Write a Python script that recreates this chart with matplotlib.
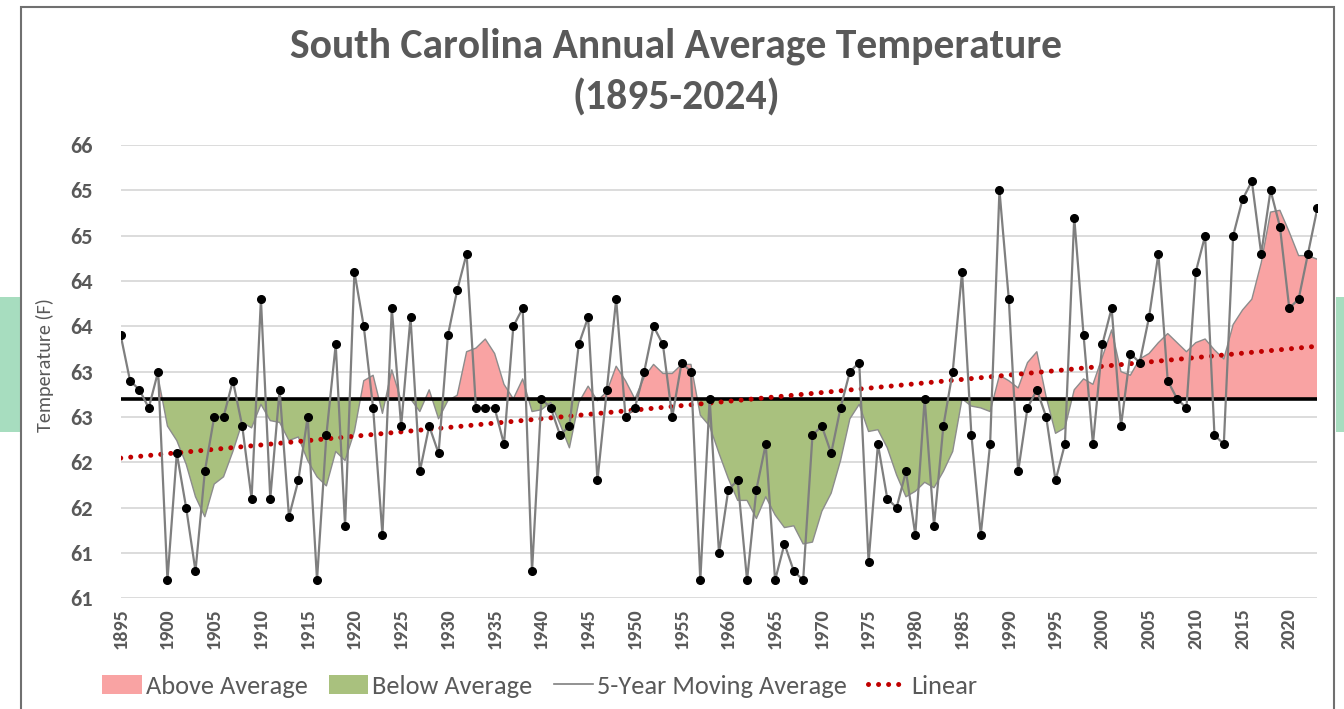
import numpy as np
import pandas as pd
import matplotlib
matplotlib.use('Agg')
import matplotlib.pyplot as plt
from matplotlib.patches import Patch, Rectangle
from matplotlib.lines import Line2D

plt.rcParams['font.family'] = ['Carlito', 'Liberation Sans Narrow', 'Lato', 'DejaVu Sans']

# ---------------- data ----------------
years = list(range(1895, 2024))
temps = [
    63.5, 63.0, 62.9, 62.7, 63.1, 60.8, 62.2, 61.6, 60.9, 62.0,   # 1895-1904
    62.6, 62.6, 63.0, 62.5, 61.7, 63.9, 61.7, 62.9, 61.5, 61.9,   # 1905-1914
    62.6, 60.8, 62.4, 63.4, 61.4, 64.2, 63.6, 62.7, 61.3, 63.8,   # 1915-1924
    62.5, 63.7, 62.0, 62.5, 62.2, 63.5, 64.0, 64.4, 62.7, 62.7,   # 1925-1934
    62.7, 62.3, 63.6, 63.8, 60.9, 62.8, 62.7, 62.4, 62.5, 63.4,   # 1935-1944
    63.7, 61.9, 62.9, 63.9, 62.6, 62.7, 63.1, 63.6, 63.4, 62.6,   # 1945-1954
    63.2, 63.1, 60.8, 62.8, 61.1, 61.8, 61.9, 60.8, 61.8, 62.3,   # 1955-1964
    60.8, 61.2, 60.9, 60.8, 62.4, 62.5, 62.2, 62.7, 63.1, 63.2,   # 1965-1974
    61.0, 62.3, 61.7, 61.6, 62.0, 61.3, 62.8, 61.4, 62.5, 63.1,   # 1975-1984
    64.2, 62.4, 61.3, 62.3, 65.1, 63.9, 62.0, 62.7, 62.9, 62.6,   # 1985-1994
    61.9, 62.3, 64.8, 63.5, 62.3, 63.4, 63.8, 62.5, 63.3, 63.2,   # 1995-2004
    63.7, 64.4, 63.0, 62.8, 62.7, 64.2, 64.6, 62.4, 62.3, 64.6,   # 2005-2014
    65.0, 65.2, 64.4, 65.1, 64.7, 63.8, 63.9, 64.4, 64.9,         # 2015-2023
]
long_term_average = 62.8
ytick_values = [60.6, 61.1, 61.6, 62.1, 62.6, 63.1, 63.6, 64.1, 64.6, 65.1, 65.6]
ytick_labels = ['61', '61', '62', '62', '63', '63', '64', '64', '65', '65', '66']
xtick_years = list(range(1895, 2024, 5))
title_text = 'South Carolina Annual Average Temperature\n(1895-2024)'
ylabel_text = 'Temperature (F)'
legend_labels = ['Above Average', 'Below Average', '5-Year Moving Average', 'Linear']

# ---------------- styles ----------------
TXT = '#595959'
PINK = '#F9A3A3'
GREEN = '#A9C17E'
GRID = '#D9D9D9'

W, H = 1344, 709
fig = plt.figure(figsize=(W / 100, H / 100), dpi=100)
fig.patch.set_facecolor('white')

# background slide elements: mint bars and frame
fig.add_artist(Rectangle((0, 1 - 432 / H), 20 / W, 135 / H, transform=fig.transFigure,
                         facecolor='#A7DDBF', edgecolor='none', zorder=0))
fig.add_artist(Rectangle((1336 / W, 1 - 432 / H), 8 / W, 135 / H, transform=fig.transFigure,
                         facecolor='#A7DDBF', edgecolor='none', zorder=0))
fig.add_artist(Rectangle((21 / W, -0.05), (1334 - 21) / W, 1.05 - 7 / H, transform=fig.transFigure,
                         facecolor='white', edgecolor='#707070', linewidth=1.5, zorder=0.5))

left, right, top, bottom = 120.7, 1317.3, 145.0, 598.3
ax = fig.add_axes([left / W, 1 - bottom / H, (right - left) / W, (bottom - top) / H])
ax.set_facecolor('none')
ax.set_zorder(2)

x = np.array(years, dtype=float)
y = np.array(temps, dtype=float)
ma = pd.Series(y).rolling(5).mean().to_numpy()

valid = ~np.isnan(ma)
xv, mv = x[valid], ma[valid]
ax.fill_between(xv, mv, long_term_average, where=mv >= long_term_average, interpolate=True,
                facecolor=PINK, edgecolor='none', zorder=2)
ax.fill_between(xv, mv, long_term_average, where=mv <= long_term_average, interpolate=True,
                facecolor=GREEN, edgecolor='none', zorder=2)
ax.plot(xv, mv, color='#8C8C8C', linewidth=1.0, zorder=3)

ax.axhline(long_term_average, color='black', linewidth=2.6, zorder=4)

coef = np.polyfit(x, y, 1)
ax.plot(x, np.polyval(coef, x), color='#C00000', linewidth=3.6,
        linestyle=(0, (0.01, 2.0)), dash_capstyle='round', zorder=5)

ax.plot(x, y, color='#7F7F7F', linewidth=1.6, zorder=6,
        marker='o', markersize=5.5, markerfacecolor='black', markeredgecolor='black')

ax.set_xlim(1895, 2023)
ax.set_ylim(ytick_values[0], ytick_values[-1])
ax.set_yticks(ytick_values)
ax.set_yticklabels(ytick_labels, fontsize=16, fontweight='bold', color=TXT)
ax.set_xticks(xtick_years)
ax.set_xticklabels([str(v) for v in xtick_years], rotation=90, fontsize=14.5,
                   fontweight='bold', color=TXT)
ax.tick_params(axis='y', length=0, pad=20)
ax.tick_params(axis='x', length=0, pad=7)
ax.grid(axis='y', color=GRID, linewidth=1.3, zorder=0)
ax.set_axisbelow(True)
for s in ax.spines.values():
    s.set_visible(False)

ax.set_ylabel(ylabel_text, fontsize=14.5, color=TXT)
ax.yaxis.set_label_coords(-0.0555, 0.515)

fig.text(0.5 + 4 / W, 1 - 72 / H, title_text, ha='center', va='center', fontsize=30,
         fontweight='bold', color=TXT, linespacing=1.42)

handles = [Patch(facecolor=PINK, edgecolor='none'),
           Patch(facecolor=GREEN, edgecolor='none'),
           Line2D([], [], color='#7F7F7F', linewidth=1.2),
           Line2D([], [], color='#C00000', linewidth=3.6, linestyle=(0, (0.01, 2.0)),
                  dash_capstyle='round')]
fig.legend(handles, legend_labels, loc='center', bbox_to_anchor=(540 / W, 1 - 686 / H),
           ncol=4, frameon=False, fontsize=19, labelcolor=TXT, handlelength=1.5,
           handleheight=0.75, handletextpad=0.15, columnspacing=0.8)

fig.savefig('out.png', dpi=100)
